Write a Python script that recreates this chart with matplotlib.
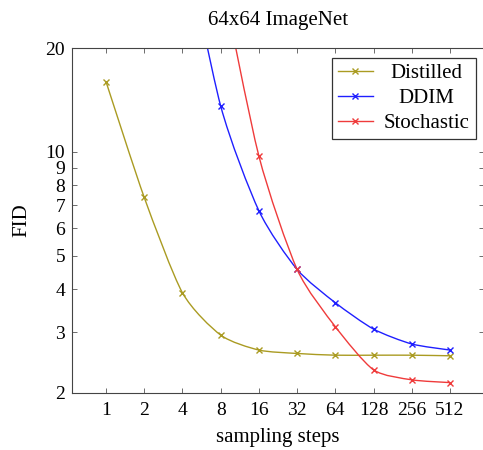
import numpy as np
import matplotlib
matplotlib.use('Agg')
import matplotlib.pyplot as plt
from matplotlib.path import Path
from matplotlib.patches import PathPatch
from matplotlib.lines import Line2D
from matplotlib.ticker import FixedLocator, NullLocator, FixedFormatter

plt.rcParams['font.family'] = ['Liberation Serif', 'DejaVu Serif']

# ---- data ----
distilled_steps = [1, 2, 4, 8, 16, 32, 64, 128, 256, 512]
distilled_fid = [16.0, 7.38, 3.90, 2.94, 2.66, 2.60, 2.57, 2.57, 2.57, 2.56]

ddim_steps = [4, 8, 16, 32, 64, 128, 256, 512]
ddim_fid = [45.0, 13.6, 6.75, 4.56, 3.65, 3.06, 2.77, 2.66]

stoch_steps = [8, 16, 32, 64, 128, 256, 512]
stoch_fid = [33.0, 9.73, 4.56, 3.11, 2.33, 2.18, 2.14]

x_ticks = [1, 2, 4, 8, 16, 32, 64, 128, 256, 512]
y_ticks = [2, 3, 4, 5, 6, 7, 8, 9, 10, 20]

OLIVE = '#aa9b22'
BLUE = '#1f1fff'
RED = '#ef3b3b'
FS = 15


def smooth_path(xs, ys, k=0.12):
    """pgfplots-like smooth curve: cubic bezier in log-log space"""
    lx = np.log2(xs)
    ly = np.log10(ys)
    p = np.column_stack([lx, ly])
    n = len(p)
    verts = [p[0]]
    codes = [Path.MOVETO]
    for i in range(n - 1):
        a = p[i - 1] if i > 0 else p[i]
        b = p[i + 2] if i + 2 < n else p[i + 1]
        c1 = p[i] + (p[i + 1] - a) * k
        c2 = p[i + 1] - (b - p[i]) * k
        verts += [c1, c2, p[i + 1]]
        codes += [Path.CURVE4] * 3
    verts = np.array(verts)
    verts = np.column_stack([2.0 ** verts[:, 0], 10.0 ** verts[:, 1]])
    return Path(verts, codes)


fig = plt.figure(figsize=(4.83, 4.5), dpi=100)
ax = fig.add_axes([72 / 483, 57.3 / 450, 412 / 483, 344.4 / 450])
ax.set_xscale('log', base=2)
ax.set_yscale('log')
ax.set_xlim(2 ** -0.89, 2 ** 9.89)
ax.set_ylim(2, 20)

for xs, ys, col in [(distilled_steps, distilled_fid, OLIVE),
                    (ddim_steps, ddim_fid, BLUE),
                    (stoch_steps, stoch_fid, RED)]:
    ax.add_patch(PathPatch(smooth_path(xs, ys), facecolor='none',
                           edgecolor=col, lw=1.0, clip_on=True))
    ax.plot(xs, ys, ls='none', marker='x', ms=5, mew=1.0, color=col)

ax.xaxis.set_major_locator(FixedLocator(x_ticks))
ax.xaxis.set_major_formatter(FixedFormatter([str(v) for v in x_ticks]))
ax.xaxis.set_minor_locator(NullLocator())
ax.yaxis.set_major_locator(FixedLocator(y_ticks))
ax.yaxis.set_major_formatter(FixedFormatter([str(v) for v in y_ticks]))
ax.yaxis.set_minor_locator(NullLocator())

ax.tick_params(which='both', direction='in', top=True, right=True,
               length=3.8, width=0.6, color='#555555', labelsize=14)
ax.tick_params(axis='x', pad=7)
ax.tick_params(axis='y', pad=5)
for s in ax.spines.values():
    s.set_linewidth(0.8)
    s.set_color('#444444')

ax.set_title('64x64 ImageNet', fontsize=FS, pad=17)
ax.set_xlabel('sampling steps', fontsize=FS, labelpad=6)
ax.set_ylabel('FID', fontsize=FS, labelpad=10)

handles = [Line2D([], [], color=c, marker='x', ms=5, mew=1.0, lw=1.0)
           for c in (OLIVE, BLUE, RED)]
leg = ax.legend(handles, ['Distilled', 'DDIM', 'Stochastic'],
                loc='upper right', bbox_to_anchor=(0.99, 0.985),
                fontsize=FS, fancybox=False, framealpha=1,
                edgecolor='#333333', handlelength=1.7, handletextpad=0.5,
                labelspacing=0.25, borderpad=0.3, borderaxespad=0.2)
leg.get_frame().set_linewidth(0.9)

# centre the legend texts like pgfplots does
fig.canvas.draw()
texts = leg.get_texts()
widths = [t.get_window_extent().width for t in texts]
wmax = max(widths)
for t, w in zip(texts, widths):
    t.set_position(((wmax - w) / 2, 0))

fig.savefig('out.png', dpi=100)
